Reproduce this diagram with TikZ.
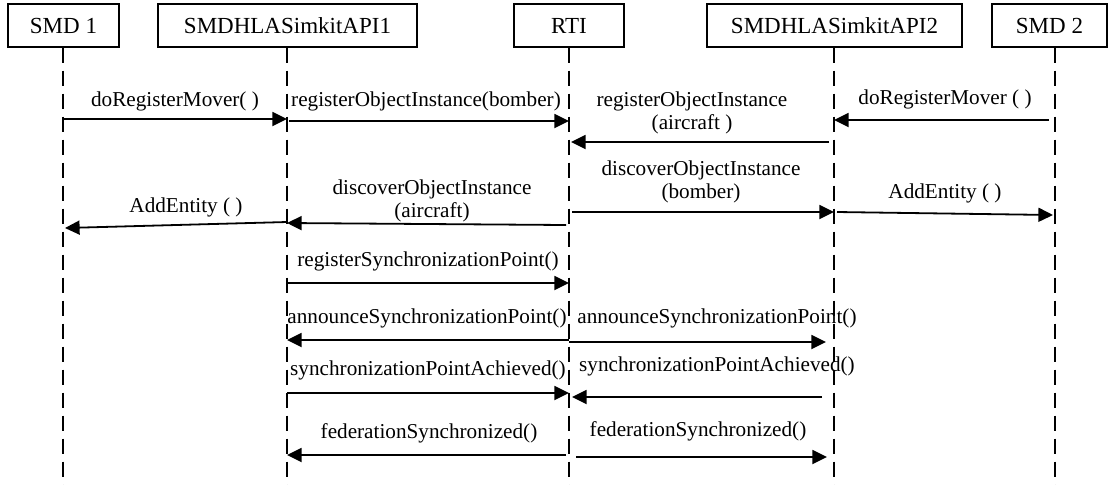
\documentclass[tikz,border=0pt]{standalone}
\usepackage{fontspec}
\setmainfont{Liberation Serif}
\usetikzlibrary{arrows.meta}
\begin{document}
\begin{tikzpicture}[x=0.5pt,y=-0.5pt,
  actor/.style={draw,line width=0.6pt,minimum height=21.5pt,inner sep=0pt,font=\fontsize{11.5}{13}\selectfont},
  life/.style={line width=0.9pt,dash pattern=on 7.5pt off 4pt},
  msg/.style={line width=0.9pt,-{Triangle[length=7.3pt,width=7pt]}},
  lbl/.style={font=\fontsize{10.6}{11.2}\selectfont,align=center,inner sep=0pt}]
\useasboundingbox (0,0) rectangle (1109,484);
% actors
\node[actor,minimum width=55.5pt] (smd1) at (63.5,25.5) {SMD 1};
\node[actor,minimum width=129.5pt] (api1) at (287.5,25.5) {SMDHLASimkitAPI1};
\node[actor,minimum width=55pt] (rti) at (569,25.5) {RTI};
\node[actor,minimum width=127.5pt] (api2) at (834.5,25.5) {SMDHLASimkitAPI2};
\node[actor,minimum width=57.5pt] (smd2) at (1049.5,25.5) {SMD 2};
% lifeline ends
\coordinate (e1) at (63,486);
\coordinate (e2) at (287,486);
\coordinate (e3) at (569,486);
\coordinate (e4) at (834,486);
\coordinate (e5) at (1055,486);
\draw[life] (smd1.south -| e1) -- (e1);
\draw[life] (api1.south -| e2) -- (e2);
\draw[life] (rti.south -| e3) -- (e3);
\draw[life] (api2.south -| e4) -- (e4);
\draw[life] (smd2.south -| e5) -- (e5);
% messages
\draw[msg] (e1 |- 0,119) -- (e2 |- 0,119);
\node[lbl] (m1) at (175,101) {doRegisterMover( )};
\draw[msg] (289,121) -- (e3 |- 0,121);
\node[lbl] (m2) at (426,101) {registerObjectInstance(bomber)};
\coordinate (s3) at (829,142);
\draw[msg] (s3) -- (571,142);
\node[lbl] (m3) at (692,113) {registerObjectInstance\\(aircraft )};
\coordinate (s4) at (1049,120);
\draw[msg] (s4) -- (e4 |- 0,120);
\node[lbl] (m4) at (945,99) {doRegisterMover ( )};
\coordinate (s5) at (566,225);
\draw[msg] (s5) -- (e2 |- 0,223);
\node[lbl] (m5) at (432,201) {discoverObjectInstance\\(aircraft)};
\coordinate (s6) at (287,222);
\draw[msg] (s6) -- (65,228);
\node[lbl] (m6) at (186,207) {AddEntity ( )};
\coordinate (s7) at (572,212);
\draw[msg] (s7) -- (e4 |- 0,212);
\node[lbl] (m7) at (701,182) {discoverObjectInstance\\(bomber)};
\coordinate (s8) at (837,212);
\draw[msg] (s8) -- (1053,215);
\node[lbl] (m8) at (945,193) {AddEntity ( )};
\draw[msg] (e2 |- 0,283) -- (e3 |- 0,283);
\node[lbl] (m9) at (428,261) {registerSynchronizationPoint()};
\draw[msg] (e3 |- 0,340) -- (e2 |- 0,340);
\node[lbl] (m10) at (427,318) {announceSynchronizationPoint()};
\coordinate (t11) at (826,342);
\draw[msg] (e3 |- 0,342) -- (t11);
\node[lbl] (m11) at (717,318) {announceSynchronizationPoint()};
\draw[msg] (e2 |- 0,393) -- (e3 |- 0,393);
\node[lbl] (m12) at (428,370) {synchronizationPointAchieved()};
\coordinate (s13) at (822,397);
\draw[msg] (s13) -- (572,397);
\node[lbl] (m13) at (717,366) {synchronizationPointAchieved()};
\coordinate (s14) at (566,455);
\draw[msg] (s14) -- (e2 |- 0,455);
\node[lbl] (m14) at (429,433) {federationSynchronized()};
\coordinate (s15) at (576,457);
\coordinate (t15) at (827,457);
\draw[msg] (s15) -- (t15);
\node[lbl] (m15) at (698,431) {federationSynchronized()};
\end{tikzpicture}
\end{document}
